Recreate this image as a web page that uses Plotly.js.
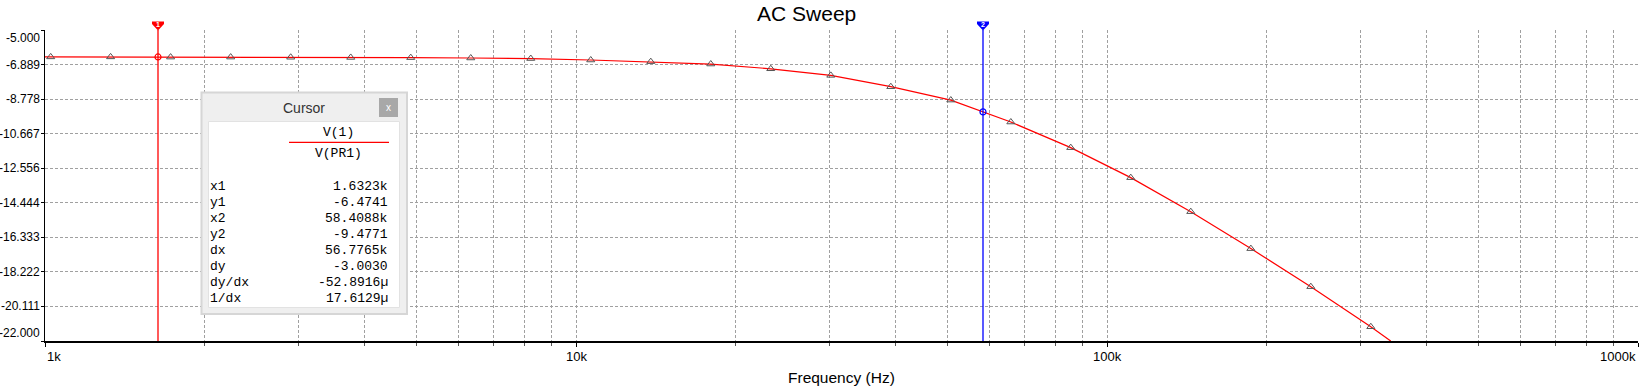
<!DOCTYPE html>
<html>
<head>
<meta charset="utf-8">
<script src="https://cdn.plot.ly/plotly-3.0.1.min.js"></script>
<style>html,body{margin:0;padding:0;background:#fff;}#chart{width:1642px;height:386px;}</style>
</head>
<body>
<div id="chart"></div>
<script>
// ---- data ----
const freqHz = [1000, 1025, 1329, 1724, 2237, 2902, 3765, 4884, 6336, 8219, 10660, 13830, 17940, 23270, 30190, 39160, 50800, 65900, 85450, 110850, 143800, 186600, 242000, 313900, 342200];
const gainDb = [-6.47, -6.47, -6.47, -6.48, -6.48, -6.49, -6.50, -6.51, -6.53, -6.56, -6.64, -6.73, -6.86, -7.12, -7.48, -8.10, -8.83, -10.03, -11.43, -13.07, -14.93, -16.95, -19.03, -21.22, -22.0];

const cursorFreq = [1632.3, 58408.8];
const cursorGain = [-6.4741, -9.4771];
const cursorNames = ['1', '2'];
const cursorColors = ['#ff0000', '#0000ff'];

const yTickVals = [-5, -6.889, -8.778, -10.667, -12.556, -14.444, -16.333, -18.222, -20.111, -22];
const yTickText = ['-5.000', '-6.889', '-8.778', '-10.667', '-12.556', '-14.444', '-16.333', '-18.222', '-20.111', '-22.000'];
const xTickVals = [1000, 10000, 100000, 1000000];
const xTickText = ['1k', '10k', '100k', '1000k'];
const xAxisTitle = 'Frequency (Hz)';

const readoutTrace = ['V(1)', 'V(PR1)'];
const readoutLabels = ['x1', 'y1', 'x2', 'y2', 'dx', 'dy', 'dy/dx', '1/dx'];
const readoutValues = ['1.6323k', '-6.4741', '58.4088k', '-9.4771', '56.7765k', '-3.0030', '-52.8916\u00b5', '17.6129\u00b5'];

// ---- layout geometry ----
const W = 1642, H = 386;
const M = {l: 45, r: 4, t: 30, b: 45};
const PW = W - M.l - M.r, PH = H - M.t - M.b;
const X_RANGE = [3, 6];
const px = x => (x - M.l) / PW;          // pixel -> paper x
const py = y => (H - M.b - y) / PH;      // pixel -> paper y
const freqToPaper = f => (Math.log10(f) - X_RANGE[0]) / (X_RANGE[1] - X_RANGE[0]);

const SANS = 'Liberation Sans, Arial, sans-serif';
const MONO = 'Liberation Mono, Courier New, monospace';
const GRID = '#a0a0a0';

const traces = [];
// main curve
traces.push({
  x: freqHz, y: gainDb, mode: 'lines', type: 'scatter',
  line: {color: '#ff0000', width: 1.2}, hoverinfo: 'skip', showlegend: false
});
// triangle markers on the curve
traces.push({
  x: freqHz.slice(1, -1), y: gainDb.slice(1, -1), mode: 'markers', type: 'scatter',
  marker: {symbol: 'triangle-up-open', size: 7, color: '#555', line: {width: 1, color: '#555'}},
  hoverinfo: 'skip', showlegend: false
});

const annotations = [];
const shapes = [];

// cursors
cursorFreq.forEach((f, i) => {
  traces.push({
    x: [f, f], y: [yTickVals[0], yTickVals[yTickVals.length - 1]], mode: 'lines', type: 'scatter',
    line: {color: cursorColors[i], width: 1.3}, hoverinfo: 'skip', showlegend: false
  });
  traces.push({
    x: [f], y: [cursorGain[i]], mode: 'markers', type: 'scatter',
    marker: {symbol: 'circle-open', size: 6, color: cursorColors[i], line: {width: 1.2}},
    hoverinfo: 'skip', showlegend: false
  });
  // flag at the top of the cursor
  const cp = freqToPaper(f);
  const hw = 6 / PW;
  shapes.push({
    type: 'path', xref: 'paper', yref: 'paper', layer: 'above',
    path: 'M ' + (cp - hw) + ',' + py(21.5) + ' L ' + (cp + hw) + ',' + py(21.5) +
          ' L ' + (cp + hw) + ',' + py(24) + ' L ' + cp + ',' + py(30.5) +
          ' L ' + (cp - hw) + ',' + py(24) + ' Z',
    fillcolor: cursorColors[i], line: {width: 0}
  });
  annotations.push({
    xref: 'paper', yref: 'paper', x: cp, y: py(25), xanchor: 'center', yanchor: 'middle',
    text: '<b>' + cursorNames[i] + '</b>', showarrow: false,
    font: {family: SANS, size: 7, color: '#ffffff'}
  });
});

// y tick labels
yTickVals.forEach((v, i) => {
  let shift = 0;
  if (i === 0) shift = -8;
  if (i === yTickVals.length - 1) shift = 8;
  annotations.push({
    xref: 'paper', yref: 'y', x: px(42), y: v, xanchor: 'right', yanchor: 'middle',
    yshift: shift, text: yTickText[i], showarrow: false,
    font: {family: SANS, size: 12, color: '#000'}
  });
});
// x tick labels
xTickVals.forEach((v, i) => {
  const anchor = i === 0 ? 'left' : (i === xTickVals.length - 1 ? 'right' : 'center');
  annotations.push({
    xref: 'x', yref: 'paper', x: Math.log10(v), y: py(356), xanchor: anchor, yanchor: 'middle',
    text: xTickText[i], showarrow: false, font: {family: SANS, size: 13, color: '#000'}
  });
});
// x axis title
annotations.push({
  xref: 'paper', yref: 'paper', x: 0.5, y: py(377.5), xanchor: 'center', yanchor: 'middle',
  text: xAxisTitle, showarrow: false, font: {family: SANS, size: 15.5, color: '#000'}
});
// cursor readout box texts
annotations.push({xref: 'paper', yref: 'paper', x: px(304), y: py(108), xanchor: 'center', yanchor: 'middle',
  text: 'Cursor', showarrow: false, font: {family: SANS, size: 14, color: '#333'}});
annotations.push({xref: 'paper', yref: 'paper', x: px(388.5), y: py(107.5), xanchor: 'center', yanchor: 'middle',
  text: 'x', showarrow: false, font: {family: SANS, size: 10, color: '#fff'}});
annotations.push({xref: 'paper', yref: 'paper', x: px(338), y: py(132), xanchor: 'center', yanchor: 'middle',
  text: readoutTrace[0], showarrow: false, font: {family: MONO, size: 13, color: '#000'}});
annotations.push({xref: 'paper', yref: 'paper', x: px(338), y: py(153.5), xanchor: 'center', yanchor: 'middle',
  text: readoutTrace[1], showarrow: false, font: {family: MONO, size: 13, color: '#000'}});
readoutLabels.forEach((lab, i) => {
  const yy = 186.7 + i * 16;
  annotations.push({xref: 'paper', yref: 'paper', x: px(208), y: py(yy), xanchor: 'left', yanchor: 'middle',
    text: lab, showarrow: false, font: {family: MONO, size: 13, color: '#000'}});
  annotations.push({xref: 'paper', yref: 'paper', x: px(390), y: py(yy), xanchor: 'right', yanchor: 'middle',
    text: readoutValues[i], showarrow: false, font: {family: MONO, size: 13, color: '#000'}});
});

shapes.push(
  // outer window
  {type: 'rect', xref: 'paper', yref: 'paper', x0: px(201.5), x1: px(407), y0: py(314), y1: py(92.5),
   fillcolor: '#efefef', line: {color: '#d6d6d6', width: 2}, layer: 'above'},
  // inner white panel
  {type: 'rect', xref: 'paper', yref: 'paper', x0: px(208.5), x1: px(399.5), y0: py(307.5), y1: py(121.5),
   fillcolor: '#ffffff', line: {color: '#e2e2e2', width: 1}, layer: 'above'},
  // close button
  {type: 'rect', xref: 'paper', yref: 'paper', x0: px(379), x1: px(398), y0: py(117), y1: py(98),
   fillcolor: '#a8a8a8', line: {width: 0}, layer: 'above'},
  // red trace line under V(1)
  {type: 'line', xref: 'paper', yref: 'paper', x0: px(289), x1: px(389), y0: py(142.3), y1: py(142.3),
   line: {color: '#ff0000', width: 1.3}, layer: 'above'}
);

const layout = {
  width: W, height: H,
  margin: M,
  paper_bgcolor: '#ffffff', plot_bgcolor: '#ffffff',
  showlegend: false,
  title: {text: 'AC Sweep', x: 806.7 / W, xref: 'container', xanchor: 'center',
          y: 1 - 13.5 / H, yref: 'container', yanchor: 'middle',
          font: {family: SANS, size: 21, color: '#000'}},
  xaxis: {
    type: 'log', range: X_RANGE, autorange: false,
    tickvals: xTickVals, ticktext: xTickText, showticklabels: false,
    ticks: 'outside', ticklen: 4, tickcolor: '#000', tickwidth: 1,
    showgrid: true, gridcolor: GRID, gridwidth: 1, griddash: '3px,2px',
    minor: {dtick: 'D1', ticks: 'outside', ticklen: 3, tickcolor: '#555', showgrid: true,
            gridcolor: GRID, gridwidth: 1, griddash: '3px,2px'},
    showline: true, linecolor: '#000', linewidth: 1.5, zeroline: false,
    automargin: false, fixedrange: true
  },
  yaxis: {
    range: [-22, -5], autorange: false,
    tickvals: yTickVals, ticktext: yTickText, showticklabels: false,
    ticks: 'outside', ticklen: 3, tickcolor: '#000',
    showgrid: true, gridcolor: GRID, gridwidth: 1, griddash: '3px,2px',
    showline: true, linecolor: '#000', linewidth: 1, zeroline: false,
    automargin: false, fixedrange: true
  },
  annotations: annotations,
  shapes: shapes
};

Plotly.newPlot('chart', traces, layout, {displayModeBar: false, staticPlot: true});
</script>
</body>
</html>
